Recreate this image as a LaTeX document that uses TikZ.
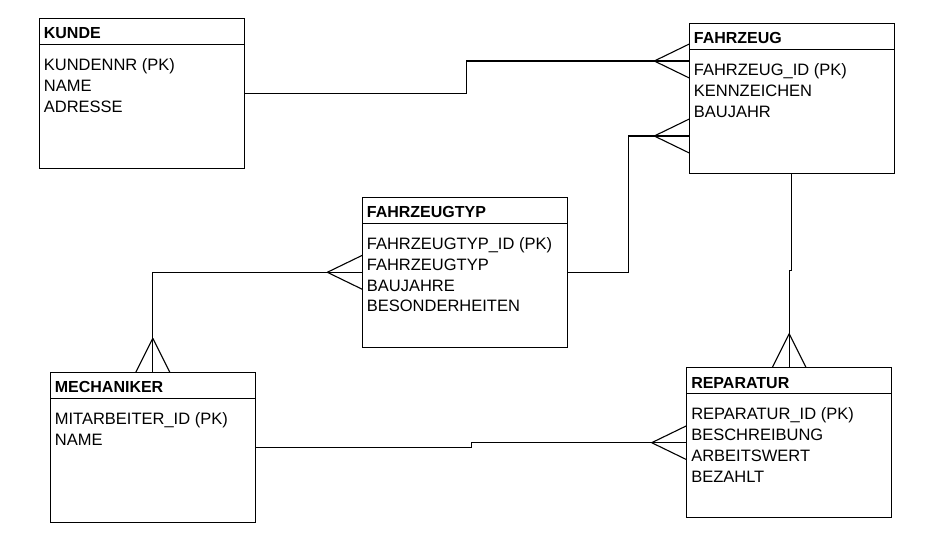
\documentclass[tikz,border=0pt]{standalone}
\usepackage{fontspec}
\setmainfont{Liberation Sans}
\begin{document}
\begin{tikzpicture}[x=1pt,y=-1pt,line width=1.1pt,
    entity/.style={draw,minimum width=205pt,minimum height=150pt,anchor=north west,inner sep=0pt,outer sep=0pt},
    titel/.style={anchor=west,inner sep=0pt,font=\fontsize{16}{19}\selectfont\bfseries},
    felder/.style={anchor=north west,inner sep=0pt,align=left,font=\fontsize{16.5}{20.8}\selectfont}]
  \useasboundingbox (0,0) rectangle (929,540);
  % Entitaeten
  \foreach \n/\p/\t/\f in {
      kunde/{(39.3,18.3)}/KUNDE/{KUNDENNR (PK)\\NAME\\ADRESSE},
      fahrzeug/{(689.3,23.3)}/FAHRZEUG/{FAHRZEUG\_ID (PK)\\KENNZEICHEN\\BAUJAHR},
      typ/{(362.3,197.3)}/FAHRZEUGTYP/{FAHRZEUGTYP\_ID (PK)\\FAHRZEUGTYP\\BAUJAHRE\\BESONDERHEITEN},
      mech/{(50.3,372.3)}/MECHANIKER/{MITARBEITER\_ID (PK)\\NAME},
      rep/{(686.7,367.7)}/REPARATUR/{REPARATUR\_ID (PK)\\BESCHREIBUNG\\ARBEITSWERT\\BEZAHLT}}{
    \node[entity] (\n) at \p {};
    \node[titel] (\n-titel) at ([xshift=4pt,yshift=-15pt]\n.north west) {\t};
    \draw ([yshift=-26pt]\n.north west) -- ([yshift=-26pt]\n.north east);
    \node[felder] (\n-felder) at ([xshift=4pt,yshift=-39.6pt]\n.north west) {\f};
  }
  % Beziehungen
  \coordinate (fz-a) at ([yshift=-37.7pt]fahrzeug.north west);
  \coordinate (fz-b) at ([yshift=-112.7pt]fahrzeug.north west);
  \draw (kunde.east) -- ++(222,0) |- (fz-a);
  \draw (typ.east) -- ++(61,0) |- (fz-b);
  \draw (typ.west) -| (mech.north);
  \draw (mech.east) -- ++(216,0) |- (rep.west);
  \draw (fahrzeug.south) -- ++(0,97) -| (rep.north);
  % Kraehenfuesse
  \draw (fz-a) ++(-35,0) -- ++(35,-17) ++(-35,17) -- ++(35,17);
  \draw (fz-b) ++(-35,0) -- ++(35,-17) ++(-35,17) -- ++(35,17);
  \draw (typ.west) ++(-35,0) -- ++(35,-17) ++(-35,17) -- ++(35,17);
  \draw (rep.west) ++(-35,0) -- ++(35,-17) ++(-35,17) -- ++(35,17);
  \draw (mech.north) ++(0,-34) -- ++(-17,34) ++(17,-34) -- ++(17,34);
  \draw (rep.north) ++(0,-34) -- ++(-17,34) ++(17,-34) -- ++(17,34);
\end{tikzpicture}
\end{document}
